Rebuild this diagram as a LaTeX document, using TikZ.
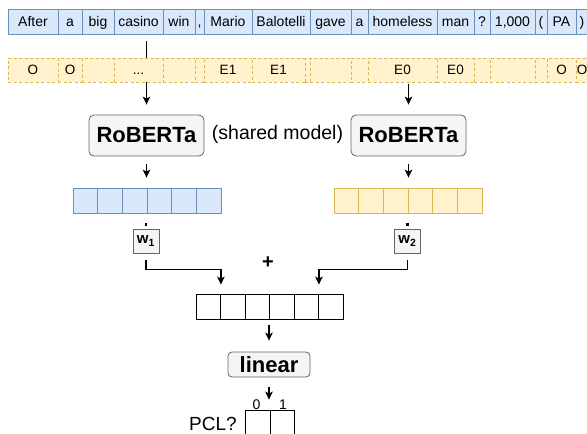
\documentclass[tikz,border=0pt]{standalone}
\usepackage{fontspec}
\setmainfont{Liberation Sans}
\usetikzlibrary{arrows.meta,calc}
\definecolor{bfill}{HTML}{DAE8FC}
\definecolor{bdraw}{HTML}{6C8EBF}
\definecolor{yfill}{HTML}{FFF2CC}
\definecolor{ydraw}{HTML}{D6B656}
\definecolor{gfill}{HTML}{F5F5F5}
\definecolor{gdraw}{HTML}{666666}
\newcommand\mydots{..\kern0pt.}
\pgfdeclarelayer{bg}
\pgfsetlayers{bg,main}
\begin{document}
\begin{tikzpicture}[x=1pt,y=-1pt,
  tok/.style={draw=bdraw,fill=bfill,line width=0.8pt,inner sep=0pt,minimum height=25pt,text height=10pt,text depth=0pt,font=\fontsize{14}{16}\selectfont},
  lab/.style={draw=ydraw,fill=yfill,dash pattern=on 3pt off 2.5pt,line width=0.8pt,inner sep=0pt,minimum height=24pt,text height=9.7pt,text depth=0pt,font=\fontsize{13.5}{16}\selectfont},
  model/.style={draw=gdraw,fill=gfill,rounded corners=5pt,line width=0.8pt,inner sep=0pt,font=\bfseries\fontsize{22}{24}\selectfont},
  bcell/.style={draw=bdraw,fill=bfill,line width=0.8pt,minimum width=24.667pt,minimum height=25pt,inner sep=0pt},
  ycell/.style={draw=ydraw,fill=yfill,line width=0.8pt,minimum width=24.667pt,minimum height=25pt,inner sep=0pt},
  ccell/.style={draw=black,fill=white,line width=0.8pt,minimum width=24.5pt,minimum height=25pt,inner sep=0pt},
  wbox/.style={draw=gdraw,fill=gfill,line width=0.8pt,minimum width=26pt,minimum height=24pt,inner sep=0pt,font=\bfseries\fontsize{15}{17}\selectfont},
  arr/.style={line width=1.2pt,-{Stealth[length=8pt,width=7.5pt,inset=2pt]}},
  plain/.style={inner sep=0pt}
]
\clip (0,0) rectangle (587,434);
% token row
\foreach \l/\r/\t [count=\i] in {8/58/After,58/82/a,82/114/big,114/163/casino,163/195/win,195/204/{,},204/252/Mario,252/310/Balotelli,310/351/gave,351/368/a,368/437/homeless,437/474/man,474/490/?,490/535/{1,000},535/547/{(},547/576/PA,576/588/{)}}
{ \pgfmathsetmacro\w{\r-\l}
  \node[tok,minimum width=\w pt] (t\i) at ({(\l+\r)/2},21.5) {\t}; }
% label row
\foreach \l/\r/\t [count=\i] in {8/58/O,58/82/O,82/114/{},114/163/\mydots,163/195/{},195/204/{},204/252/E1,252/305/E1,305/310/{},310/351/{},351/368/{},368/437/E0,437/474/E0,474/490/{},490/535/{},535/547/{},547/576/O,576/588/O}
{ \pgfmathsetmacro\w{\r-\l}
  \node[lab,minimum width=\w pt] (d\i) at ({(\l+\r)/2},70) {\t}; }
% models
\node[model,minimum width=115pt,minimum height=41pt] (rob1) at (146.5,135.5) {RoBERTa};
\node[model,minimum width=115pt,minimum height=41pt] (rob2) at (408.5,135.5) {RoBERTa};
\node[plain,font=\fontsize{19.5}{22}\selectfont] (shared) at (277.5,134) {(shared model)};
% embeddings
\foreach \i in {1,2,3,4,5,6} {
  \node[bcell] (b\i) at ({73+24.667*(\i-0.5)},200.5) {};
  \node[ycell] (y\i) at ({334+24.667*(\i-0.5)},200.5) {};
  \node[ccell] (c\i) at ({196+24.5*(\i-0.5)},306.5) {};
}
% weights
\node[wbox] (w1) at (146,241) {w\textsubscript{1}};
\node[wbox] (w2) at (407.5,241) {w\textsubscript{2}};
\fill ($(w1.north)+(-1.3,-2.5)$) rectangle ++(2.6,-2.8);
\fill ($(w2.north)+(-1.3,-2.5)$) rectangle ++(2.6,-2.8);
\node[plain,font=\bfseries\fontsize{20}{22}\selectfont] (plus) at (268,263) {+};
% linear and output
\node[model,rounded corners=4pt,minimum width=82pt,minimum height=25pt] (linear) at (269,364.5) {linear};
\node[ccell,minimum height=30pt] (o1) at (257.75,425) {};
\node[ccell,minimum height=30pt] (o2) at (282.25,425) {};
\node[plain,font=\fontsize{14}{16}\selectfont] (l0) at (256.5,405) {0};
\node[plain,font=\fontsize{14}{16}\selectfont] (l1) at (283,405) {1};
\node[plain,font=\fontsize{19}{21}\selectfont] (pcl) at (213,424) {PCL?};
% connectors
\begin{pgfonlayer}{bg}
\draw[arr,shorten <=7pt,shorten >=10pt] (t4.south -| rob1.north) -- (rob1.north);
\end{pgfonlayer}
\draw[arr,shorten <=2pt,shorten >=10pt] (d12.south -| rob2.north) -- (rob2.north);
\draw[arr,shorten <=8pt,shorten >=10pt] (rob1.south) -- (b1.north -| rob1.south);
\draw[arr,shorten <=8pt,shorten >=10pt] (rob2.south) -- (y1.north -| rob2.south);
\draw[arr,shorten >=9pt] ([yshift=-7pt]w1.south) -- ++(0,9) -| (c1.north east);
\draw[arr,shorten >=9pt] ([yshift=-7pt]w2.south) -- ++(0,9) -| (c5.north east);
\draw[arr,shorten <=6pt,shorten >=11pt] (linear.north |- c3.south) -- (linear.north);
\draw[arr,shorten <=10pt,shorten >=10pt] (linear.south) -- (linear.south |- o1.north);
\end{tikzpicture}
\end{document}
